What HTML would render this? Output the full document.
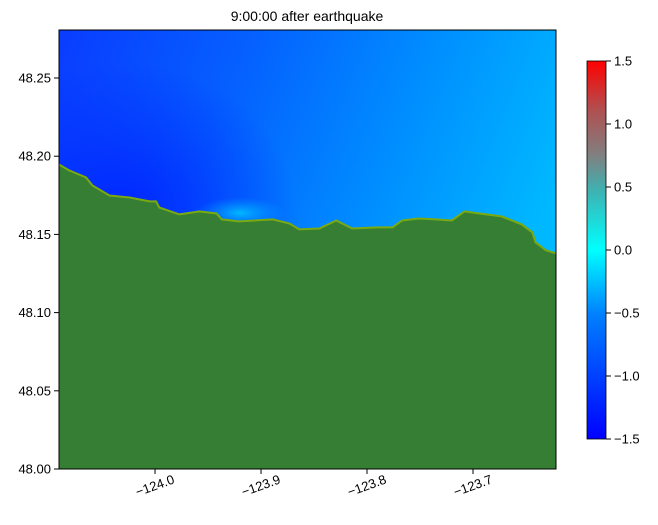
<!DOCTYPE html>
<html><head><meta charset="utf-8"><style>
body{margin:0;background:#fff;font-family:"Liberation Sans",sans-serif}
text{font-family:"Liberation Sans",sans-serif;font-size:13px;fill:#000}
</style></head><body>
<svg id="chart" width="658" height="520">
<defs>
<linearGradient id="sea" x1="0" y1="0" x2="1" y2="0.35">
<stop offset="0" stop-color="#0a3cff"/><stop offset="0.35" stop-color="#0560ff"/><stop offset="0.7" stop-color="#0090ff"/><stop offset="1" stop-color="#00b8ff"/></linearGradient>
<radialGradient id="dark" cx="0.13" cy="0.42" r="0.35"><stop offset="0" stop-color="#0020ff" stop-opacity="0.9"/><stop offset="1" stop-color="#0020ff" stop-opacity="0"/></radialGradient>
<radialGradient id="glow" cx="0.5" cy="0.5" r="0.5"><stop offset="0" stop-color="#00d0ff" stop-opacity="0.8"/><stop offset="1" stop-color="#00a0ff" stop-opacity="0"/></radialGradient>
<linearGradient id="cb" x1="0" y1="1" x2="0" y2="0">
<stop offset="0" stop-color="#0000ff"/><stop offset="0.33" stop-color="#0080ff"/><stop offset="0.5" stop-color="#00ffff"/><stop offset="0.66" stop-color="#40b0b0"/><stop offset="0.75" stop-color="#808080"/><stop offset="0.87" stop-color="#b05050"/><stop offset="1" stop-color="#ff0000"/></linearGradient>
</defs>
<text x="307" y="21" text-anchor="middle" style="font-size:14px">9:00:00 after earthquake</text>
<g>
<rect x="59" y="30" width="497" height="439" fill="url(#sea)"/>
<rect x="59" y="30" width="497" height="439" fill="url(#dark)"/>
<ellipse cx="240" cy="213" rx="45" ry="16" fill="url(#glow)"/>
<path id="land" fill="#367e34"/>
<path id="coast" fill="none" stroke="#7aaa10" stroke-width="2"/>
<rect x="59" y="30" width="497" height="439" fill="none" stroke="#000" stroke-width="1"/>
</g>
<g id="axes"></g>
<g>
<rect x="587" y="61" width="19" height="378" fill="url(#cb)" stroke="#000" stroke-width="0.8"/>
<g id="cbticks"></g>
</g>
</svg>
<script>
const coastLon=[-124.0906,-124.081,-124.065,-124.059,-124.043,-124.024,-124.005,-123.999,-123.996,-123.977,-123.958,-123.942,-123.937,-123.921,-123.889,-123.873,-123.864,-123.845,-123.829,-123.814,-123.791,-123.776,-123.767,-123.751,-123.735,-123.720,-123.708,-123.694,-123.673,-123.654,-123.644,-123.641,-123.631,-123.6217];
const coastLat=[48.1947,48.1909,48.1864,48.1813,48.1749,48.1736,48.1711,48.1711,48.1672,48.1628,48.1647,48.1634,48.1596,48.1583,48.1596,48.1570,48.1532,48.1538,48.1589,48.1538,48.1545,48.1545,48.1589,48.1602,48.1596,48.1589,48.1647,48.1634,48.1615,48.1564,48.1513,48.1449,48.1398,48.1379];
const xTicks=[-124.0,-123.9,-123.8,-123.7];
const yTicks=[48.00,48.05,48.10,48.15,48.20,48.25];
const cbTicks=[-1.5,-1.0,-0.5,0.0,0.5,1.0,1.5];
const X0=59,X1=556,Y0=469,Y1=30,LON0=-124.0906,LON1=-123.6217,LAT0=48.0,LAT1=48.2807;
const sx=v=>X0+(v-LON0)/(LON1-LON0)*(X1-X0);
const sy=v=>Y0-(v-LAT0)/(LAT1-LAT0)*(Y0-Y1);
const cy=v=>439-(v+1.5)/3*378;
const NS="http://www.w3.org/2000/svg";
let c="";
coastLon.forEach((v,i)=>{c+=(i?" L":"M")+sx(v).toFixed(1)+","+sy(coastLat[i]).toFixed(1);});
document.getElementById('coast').setAttribute('d',c);
document.getElementById('land').setAttribute('d',"M"+X0+","+Y0+" L"+c.slice(1)+" L"+X1+","+Y0+" Z");
const ax=document.getElementById('axes');
function el(t,a,p){const e=document.createElementNS(NS,t);for(const k in a)e.setAttribute(k,a[k]);p.appendChild(e);return e;}
xTicks.forEach(v=>{const x=sx(v);
const t=el('line',{x1:x,x2:x,y1:469,y2:474,stroke:'#000'},ax);


const l=el('text',{x:x,y:490,'text-anchor':'middle',transform:`rotate(-20 ${x} 486)`},ax);
l.textContent='\u2212'+Math.abs(v).toFixed(1);

});
yTicks.forEach(v=>{const y=sy(v);
const t=el('line',{x1:54,x2:59,y1:y,y2:y,stroke:'#000'},ax);


const l=el('text',{x:51,y:y+4.5,'text-anchor':'end'},ax);
l.textContent=v.toFixed(2);

});
const cg=document.getElementById('cbticks');
cbTicks.forEach(v=>{const y=cy(v);
const t=el('line',{x1:606,x2:611,y1:y,y2:y,stroke:'#000'},cg);


const l=el('text',{x:614,y:y+4.5},cg);
l.textContent=(v<0?'\u2212':'')+Math.abs(v).toFixed(1);

});
</script>
</body></html>
